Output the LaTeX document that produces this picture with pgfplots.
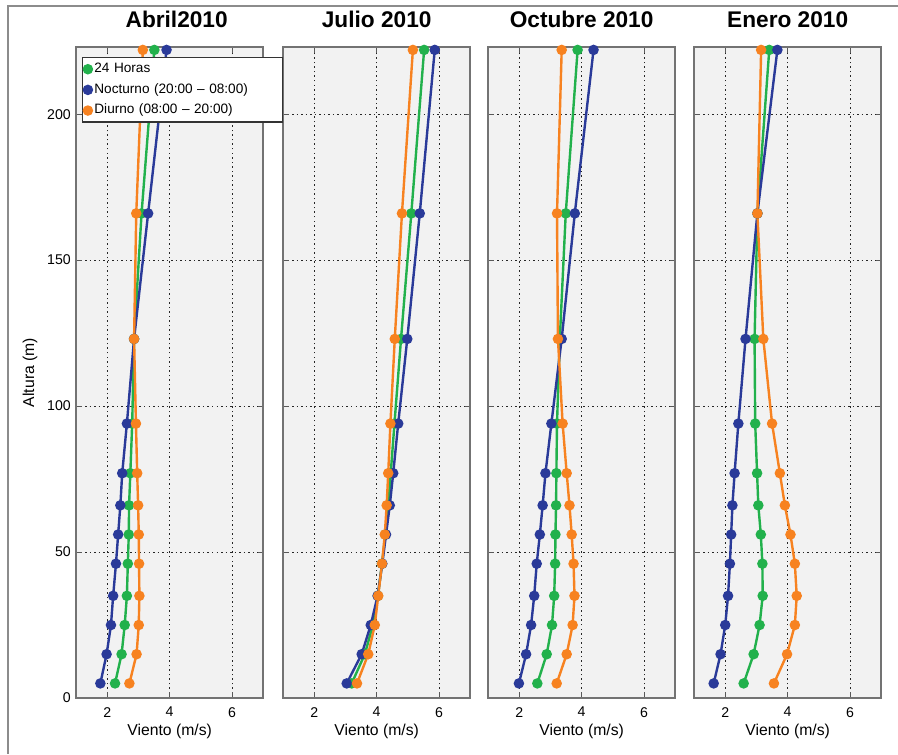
\documentclass[border=0pt]{standalone}
\usepackage{fontspec}
\setmainfont{Liberation Sans}
\usepackage{pgfplots}
\pgfplotsset{compat=1.18}
\usepackage{pgfplotstable}

\definecolor{verde}{RGB}{34,177,76}
\definecolor{azul}{RGB}{42,58,153}
\definecolor{naranja}{RGB}{247,130,32}

% h: altura (m); g: 24 horas; n: nocturno; d: diurno  (viento, m/s)
\pgfplotstableread{
h     g     n     d
5     2.25  1.78  2.71
15    2.46  1.98  2.94
25    2.56  2.12  3.01
35    2.63  2.19  3.03
46    2.66  2.28  3.02
56    2.69  2.35  3.01
66    2.70  2.42  2.99
77    2.74  2.48  2.96
94    2.80  2.63  2.92
123   2.86  2.86  2.86
166   3.10  3.31  2.93
222   3.51  3.90  3.14
}\abril

\pgfplotstableread{
h     g     n     d
5     3.20  3.04  3.37
15    3.62  3.52  3.73
25    3.88  3.81  3.94
35    4.04  4.03  4.05
46    4.17  4.18  4.17
56    4.28  4.30  4.26
66    4.37  4.42  4.32
77    4.45  4.53  4.37
94    4.57  4.69  4.44
123   4.78  4.98  4.58
166   5.11  5.38  4.81
222   5.52  5.86  5.16
}\julio

\pgfplotstableread{
h     g     n     d
5     2.58  1.99  3.20
15    2.88  2.22  3.52
25    3.05  2.38  3.71
35    3.12  2.48  3.77
46    3.15  2.56  3.74
56    3.16  2.66  3.68
66    3.18  2.75  3.61
77    3.19  2.84  3.52
94    3.21  3.03  3.39
123   3.30  3.36  3.24
166   3.49  3.78  3.21
222   3.87  4.38  3.36
}\octubre

\pgfplotstableread{
h     g     n     d
5     2.59  1.63  3.56
15    2.91  1.85  3.98
25    3.10  2.00  4.23
35    3.20  2.09  4.29
46    3.19  2.15  4.23
56    3.14  2.19  4.09
66    3.06  2.23  3.91
77    3.02  2.30  3.75
94    2.96  2.42  3.50
123   2.94  2.65  3.22
166   3.03  3.03  3.03
222   3.41  3.67  3.15
}\enero

\pgfplotsset{
  perfil/.style={
    scale only axis, width=140.5pt, height=488.25pt, anchor=south west,
    xmin=1, xmax=7, ymin=0, ymax=223,
    xtick={2,4,6}, ytick={0,50,100,150,200},
    tick align=inside, xtick pos=both, ytick pos=both,
    xticklabel pos=lower, yticklabel pos=left,
    major tick length=4.3pt,
    tick style={black!65, line width=0.8pt},
    axis line style={black!55, line width=1.3pt},
    axis background/.style={fill=black!5},
    grid=major,
    major grid style={black!85, line width=0.65pt, dash pattern=on 1.1pt off 2.3pt},
    clip=false,
    /pgf/number format/assume math mode=true,
    ticklabel style={font=\fontsize{10.6}{12}\selectfont},
    xticklabel style={inner sep=0pt, anchor=north, yshift=-6.75pt},
    yticklabel style={inner sep=0pt, anchor=east, xshift=-3.75pt},
    xlabel={Viento (m/s)},
    xlabel style={at={(axis description cs:0.5,0)}, anchor=base, yshift=-27.75pt,
                  inner sep=0pt, font=\fontsize{11.8}{13}\selectfont},
    title style={at={(axis description cs:0.5,1)}, anchor=base, yshift=8.25pt,
                 inner sep=0pt, font=\bfseries\fontsize{17}{19}\selectfont},
  },
  serie/.style={line width=1.8pt, mark=*, mark size=3pt, mark options={solid}},
}

\begin{document}
\begin{tikzpicture}
\useasboundingbox (0,0) rectangle (673.5pt,565.5pt);
\draw[black!45, line width=0.9pt] (673.5pt,561pt) -- (6pt,561pt) -- (6pt,0pt);

\begin{axis}[perfil, at={(212.25pt,42pt)}, title={Julio 2010}, yticklabels={}]
\addplot[serie, color=verde]   table[x=g, y=h]{\julio};
\addplot[serie, color=azul]    table[x=n, y=h]{\julio};
\addplot[serie, color=naranja] table[x=d, y=h]{\julio};
\end{axis}

\begin{axis}[perfil, at={(366pt,42pt)}, title={Octubre 2010}, yticklabels={}]
\addplot[serie, color=verde]   table[x=g, y=h]{\octubre};
\addplot[serie, color=azul]    table[x=n, y=h]{\octubre};
\addplot[serie, color=naranja] table[x=d, y=h]{\octubre};
\end{axis}

\begin{axis}[perfil, at={(520.5pt,42pt)}, title={Enero 2010}, yticklabels={}]
\addplot[serie, color=verde]   table[x=g, y=h]{\enero};
\addplot[serie, color=azul]    table[x=n, y=h]{\enero};
\addplot[serie, color=naranja] table[x=d, y=h]{\enero};
\end{axis}

\begin{axis}[perfil, at={(57pt,42pt)}, title={Abril2010}, title style={xshift=5.25pt},
  ylabel={Altura (m)},
  ylabel style={at={(axis description cs:0,0.5)}, anchor=center, rotate=0,
                yshift=34.5pt, inner sep=0pt, font=\fontsize{11.8}{13}\selectfont},
  legend image code/.code={\fill[#1] (0pt,0pt) circle[radius=3pt];},
  legend cell align=left,
  legend style={at={(axis description cs:0.0321,0.9846)}, anchor=north west,
    draw=black!80, line width=1pt, fill=white, inner xsep=0pt, inner ysep=1.85pt,
    row sep=1.9pt, font=\fontsize{10.2}{12}\selectfont,
    nodes={inner xsep=1pt, inner ysep=2pt, text height=7.3pt, text depth=2.3pt,
           text width=140pt, align=left}},
]
\addplot[serie, color=verde]   table[x=g, y=h]{\abril};
\addplot[serie, color=azul]    table[x=n, y=h]{\abril};
\addplot[serie, color=naranja] table[x=d, y=h]{\abril};
\legend{24 Horas, Nocturno (20:00 -- 08:00), Diurno (08:00 -- 20:00)}
\end{axis}
\end{tikzpicture}
\end{document}
